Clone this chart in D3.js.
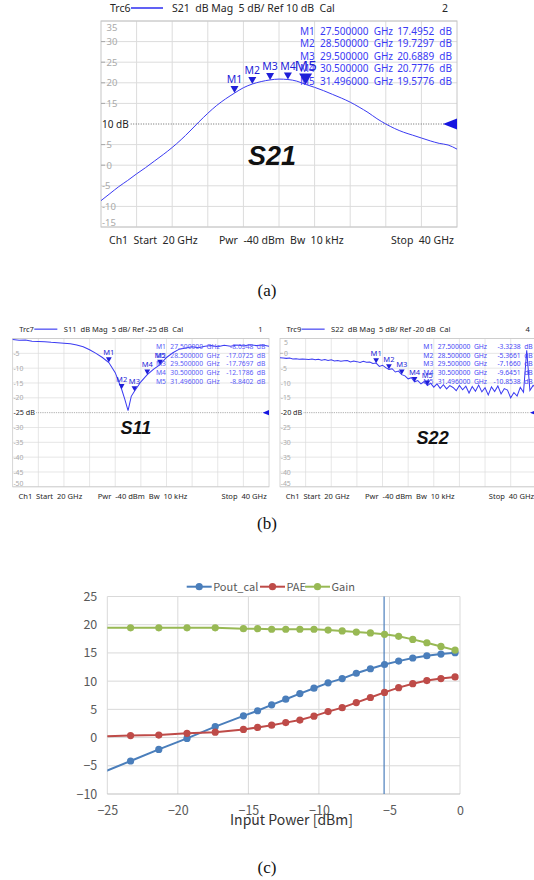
<!DOCTYPE html>
<html>
<head>
<meta charset="utf-8">
<script src="https://cdn.jsdelivr.net/npm/d3@7"></script>
<style>
  body { margin: 0; background: #fff; }
  svg { display: block; }
  .vna text { font-family: "Noto Sans", "Open Sans", sans-serif; white-space: pre; }
  .xl text { font-family: "Noto Sans CJK KR", "Noto Sans", sans-serif; }
  .cap { font-family: "Liberation Serif", "DejaVu Serif", serif; font-size: 17px; fill: #111; }
</style>
</head>
<body>
<svg id="fig" width="534" height="880"></svg>
<script>
// ---------------- data: network analyser traces (GHz, dB) ----------------
const s21Freq = [20, 20.5, 21, 21.5, 22, 22.5, 23, 23.5, 24, 24.5, 25, 25.5, 26, 26.5, 27, 27.5, 28, 28.5, 29, 29.5,
                 30, 30.5, 31, 31.5, 32, 32.5, 33, 33.5, 34, 34.5, 35, 35.5, 36, 36.5, 37, 37.5, 38, 38.5, 39, 39.5, 40];
const s21Db = [-8.6, -6.9, -5.2, -3.7, -2.1, -0.6, 1.0, 2.6, 4.3, 6.2, 8.3, 10.5, 12.6, 14.5, 16.1, 17.5, 18.8, 19.7, 20.3, 20.7,
               20.9, 20.8, 20.4, 19.6, 18.9, 18.1, 17.2, 16.3, 15.3, 14.1, 12.8, 11.3, 10.0, 8.9, 8.0, 7.3, 6.6, 5.9, 5.3, 4.9, 3.9];

const s11Freq = [20, 20.5, 21, 21.5, 22, 22.5, 23, 23.5, 24, 24.5, 25, 25.5, 26, 26.5, 27, 27.5, 28, 28.5, 28.75, 29, 29.25,
                 29.5, 30, 30.5, 31, 31.5, 32, 32.5, 33, 33.5, 34, 34.5, 35, 35.5, 36, 36.5, 37, 37.5, 38, 38.5, 39, 39.5, 40];
const s11Db = [-0.3, -0.6, -0.5, -0.9, -1.0, -1.1, -1.3, -1.4, -1.6, -1.8, -2.2, -2.8, -3.8, -5.0, -6.4, -8.1, -11.5, -17.1, -20.5, -24.3, -19.5,
               -17.8, -14.6, -12.2, -10.3, -8.8, -6.4, -4.8, -3.6, -3.2, -2.8, -3.1, -2.6, -2.4, -2.8, -2.3, -2.6, -2.2, -2.5, -2.1, -2.4, -2.2, -2.6];

const s22Freq = [20, 20.25, 20.5, 20.75, 21, 21.25, 21.5, 21.75,
                 22, 22.25, 22.5, 22.75, 23, 23.25, 23.5, 23.75,
                 24, 24.25, 24.5, 24.75, 25, 25.25, 25.5, 25.75,
                 26, 26.25, 26.5, 26.75, 27, 27.25, 27.5, 27.75,
                 28, 28.25, 28.5, 28.75, 29, 29.25, 29.5, 29.75,
                 30, 30.25, 30.5, 30.75, 31, 31.25, 31.5, 31.75,
                 32, 32.25, 32.5, 32.75, 33, 33.25, 33.5, 33.75,
                 34, 34.25, 34.5, 34.75, 35, 35.25, 35.5, 35.75,
                 36, 36.25, 36.5, 36.75, 37, 37.25, 37.5, 37.75,
                 38, 38.25, 38.5, 38.75, 39, 39.25, 39.5, 39.75,
                 40];
const s22Db = [-1.5, -1.6, -1.7, -1.6, -1.9, -1.8, -2.0, -1.9,
               -2.0, -2.1, -1.9, -2.2, -2.0, -2.3, -2.1, -2.4,
               -2.2, -2.6, -2.4, -2.7, -2.5, -2.4, -2.9, -2.6,
               -2.8, -3.1, -2.7, -3.0, -2.9, -3.4, -3.3, -4.4,
               -4.0, -4.8, -5.4, -5.2, -6.3, -6.0, -7.2, -7.6,
               -8.6, -8.2, -9.6, -9.2, -10.3, -9.5, -10.9, -10.1,
               -11.4, -10.3, -11.8, -10.6, -12.0, -10.9, -11.5, -12.6,
               -10.8, -12.3, -11.1, -13.4, -11.2, -12.8, -10.7, -13.0,
               -11.6, -14.0, -11.3, -12.9, -11.0, -13.7, -11.9, -12.4,
               -15.0, -13.2, -14.4, -11.5, -13.1, 1.0, -12.5, -10.8,
               -11.7];

// marker readouts
const markerNames = ["M1", "M2", "M3", "M4", "M5"];
const markerFreq = [27.5, 28.5, 29.5, 30.5, 31.496];
const s21Markers = [17.4952, 19.7297, 20.6889, 20.7776, 19.5776];
const s11Markers = [-8.0548, -17.0725, -17.7697, -12.1786, -8.8402];
const s22Markers = [-3.3238, -5.3661, -7.1660, -9.6451, -10.8538];

// ---------------- data: power sweep (c) ----------------
const pinDbm = [-25.35, -23.35, -21.35, -19.35, -17.35, -15.35, -14.35, -13.35, -12.35, -11.35, -10.35,
                -9.35, -8.35, -7.35, -6.35, -5.35, -4.35, -3.35, -2.35, -1.35, -0.35];
const poutCal = [-6.2, -4.15, -2.1, -0.15, 1.95, 3.85, 4.75, 5.8, 6.8, 7.8, 8.75,
                 9.7, 10.45, 11.4, 12.2, 12.95, 13.55, 14.1, 14.5, 14.8, 15.05];
const pae = [0.2, 0.35, 0.45, 0.75, 0.95, 1.45, 1.8, 2.2, 2.65, 3.1, 3.8,
             4.6, 5.3, 6.2, 7.1, 8.0, 8.85, 9.55, 10.1, 10.45, 10.75];
const gain = [19.45, 19.45, 19.45, 19.45, 19.45, 19.3, 19.3, 19.2, 19.2, 19.2, 19.2,
              19.05, 18.9, 18.7, 18.55, 18.3, 17.95, 17.4, 16.8, 16.15, 15.5];
const pinTicks = [-25, -20, -15, -10, -5, 0];
const yTicksC = [-10, -5, 0, 5, 10, 15, 20, 25];
const cursorPin = -5.38;

const svg = d3.select("#fig");

// one VNA screen, drawn in a 356x206 box and scaled by k
function drawVna(cfg) {
    const W = 356, H = 206;
    const g = svg.append("g").attr("class", "vna")
        .attr("transform", `translate(${cfg.left},${cfg.top}) scale(${cfg.k})`);
    const x = d3.scaleLinear().domain([20, 40]).range([0, W]);
    const y = d3.scaleLinear().domain([cfg.yTop, cfg.yTop - 50]).range([0, H]);

    // grid
    g.append("g").selectAll("line").data(x.ticks(10).slice(1, -1)).join("line")
        .attr("x1", d => x(d)).attr("x2", d => x(d)).attr("y1", 0).attr("y2", H)
        .attr("stroke", "#dcdcdc");
    g.append("g").selectAll("line").data(y.ticks(10).filter(d => d !== cfg.ref)).join("line")
        .attr("x1", 0).attr("x2", W).attr("y1", d => y(d)).attr("y2", d => y(d))
        .attr("stroke", "#dcdcdc");
    g.append("rect").attr("width", W).attr("height", H)
        .attr("fill", "none").attr("stroke", "#c6c6c6");

    // y labels
    const lab = g.append("g").attr("fill", "#a9a9a9").style("font-size", "9.5px");
    y.ticks(10).forEach(d => {
        if (d === cfg.ref || (cfg.hideTop && d === cfg.yTop)) return;
        let yy = y(d) + 3.5;
        if (d === cfg.yTop) yy += 6;
        if (d === cfg.yTop - 50) yy -= 5;
        if (d >= 0 && d !== cfg.yTop) {
            lab.append("line").attr("x1", 0).attr("x2", 4).attr("y1", y(d)).attr("y2", y(d))
                .attr("stroke", "#a9a9a9");
        }
        lab.append("text").attr("x", d < 0 ? 1 : 5.5).attr("y", yy).text(d);
    });

    // reference level
    const refLab = g.append("text").attr("x", 1).attr("y", y(cfg.ref) + 3.5)
        .attr("fill", "#222").style("font-size", "10px").text(`${cfg.ref} dB`);
    const refStart = refLab.node().getComputedTextLength() + 3;
    g.append("line").attr("x1", refStart).attr("x2", W - 10)
        .attr("y1", y(cfg.ref)).attr("y2", y(cfg.ref))
        .attr("stroke", "#666").attr("stroke-dasharray", "1,1.5");
    const a = cfg.arrow;
    g.append("path")
        .attr("d", `M${W - a},${y(cfg.ref)}L${W},${y(cfg.ref) - a * 0.4}L${W},${y(cfg.ref) + a * 0.4}Z`)
        .attr("fill", "#1515e0");

    // trace
    const line = d3.line().x(d => x(d[0])).y(d => y(d[1])).curve(cfg.curve);
    g.append("path").datum(d3.zip(cfg.freq, cfg.db)).attr("d", line)
        .attr("fill", "none").attr("stroke", "#3b3bf2").attr("stroke-width", cfg.lw);

    // marker table
    const tbl = g.append("g").attr("fill", cfg.tableColor).style("font-size", cfg.tableSize + "px");
    markerNames.forEach((m, i) => {
        const ty = 14 + i * 12.4;
        tbl.append("text").attr("x", 199).attr("y", ty).text(m);
        tbl.append("text").attr("x", 219).attr("y", ty).text(`${markerFreq[i].toFixed(6)}  GHz`);
        tbl.append("text").attr("x", 351).attr("y", ty).attr("text-anchor", "end")
            .text(`${cfg.markers[i].toFixed(4)}  dB`);
    });

    // marker triangles
    const mk = g.append("g").attr("fill", "#1f1fd8");
    markerNames.forEach((m, i) => {
        const px = x(markerFreq[i]), py = y(cfg.markers[i]);
        const big = cfg.bigActive && i === 4;
        const hw = big ? 6.5 : 4, hh = big ? 11 : 7;
        mk.append("path").attr("d", `M${px - hw},${py - hh}L${px + hw},${py - hh}L${px},${py}Z`);
        mk.append("text").attr("x", px).attr("y", py - hh - 3)
            .attr("text-anchor", "middle").style("font-size", big ? "15px" : "10.5px").text(m);
    });

    // header and footer
    const hd = g.append("g").attr("fill", "#262626").style("font-size", "10.5px");
    hd.append("text").attr("x", 9).attr("y", -9).text(cfg.trc);
    hd.append("line").attr("x1", 30).attr("x2", 62).attr("y1", -13).attr("y2", -13)
        .attr("stroke", "#2d2df0").attr("stroke-width", 1.5);
    hd.append("text").attr("x", 71).attr("y", -9)
        .text(`${cfg.name}  dB Mag  5 dB/ Ref ${cfg.ref} dB  Cal`);
    hd.append("text").attr("x", 347).attr("y", -9).attr("text-anchor", "end").text(cfg.ch);
    hd.append("text").attr("x", 8).attr("y", H + 17).text("Ch1  Start  20 GHz");
    hd.append("text").attr("x", 118).attr("y", H + 17).text("Pwr  -40 dBm  Bw  10 kHz");
    hd.append("text").attr("x", 290).attr("y", H + 17).text("Stop  40 GHz");

    // big label
    g.append("text").attr("x", cfg.labelX).attr("y", cfg.labelY)
        .attr("text-anchor", "middle")
        .style("font-family", "'Liberation Sans', Arial, sans-serif")
        .style("font-weight", "bold").style("font-style", "italic")
        .style("font-size", cfg.labelSize + "px").attr("fill", "#111")
        .text(cfg.name);
}

drawVna({ left: 101, top: 21, k: 1, yTop: 35, ref: 10, name: "S21", trc: "Trc6", ch: "2",
    freq: s21Freq, db: s21Db, markers: s21Markers, lw: 1, arrow: 14, bigActive: true,
    curve: d3.curveMonotoneX, tableSize: 10,
    tableColor: "#3a3af5", labelX: 171, labelY: 144, labelSize: 27 });
drawVna({ left: 12.7, top: 338.5, k: 0.72, yTop: 0, ref: -25, name: "S11", trc: "Trc7", ch: "1",
    freq: s11Freq, db: s11Db, markers: s11Markers, lw: 1.4, arrow: 9, bigActive: false, hideTop: true,
    curve: d3.curveLinear, tableSize: 9.4,
    tableColor: "#5a5af7", labelX: 171, labelY: 132, labelSize: 25 });
drawVna({ left: 280, top: 338.5, k: 0.72, yTop: 5, ref: -20, name: "S22", trc: "Trc9", ch: "4",
    freq: s22Freq, db: s22Db, markers: s22Markers, lw: 1.4, arrow: 9, bigActive: false,
    curve: d3.curveLinear, tableSize: 9.4,
    tableColor: "#4a4af6", labelX: 212, labelY: 146, labelSize: 25 });

// ---------------- (c) power sweep ----------------
const cx = d3.scaleLinear().domain([-25, 0]).range([107.3, 460]);
const cy = d3.scaleLinear().domain([-10, 25]).range([794, 596.5]);
const gc = svg.append("g").attr("class", "xl");

gc.append("g").selectAll("line").data(pinTicks).join("line")
    .attr("x1", d => cx(d)).attr("x2", d => cx(d)).attr("y1", cy(25)).attr("y2", cy(-10))
    .attr("stroke", "#d9d9d9");
gc.append("g").selectAll("line").data(yTicksC).join("line")
    .attr("x1", cx(-25)).attr("x2", cx(0)).attr("y1", d => cy(d)).attr("y2", d => cy(d))
    .attr("stroke", d => d === -10 ? "#bfbfbf" : "#d9d9d9");

const gxAxis = gc.append("g").attr("transform", `translate(0,${cy(-10)})`)
    .call(d3.axisBottom(cx).tickValues(pinTicks).tickSize(0).tickPadding(12));
const gyAxis = gc.append("g").attr("transform", `translate(${cx(-25)},0)`)
    .call(d3.axisLeft(cy).tickValues(yTicksC).tickSize(0).tickPadding(10));
[gxAxis, gyAxis].forEach(ax => {
    ax.select(".domain").remove();
    ax.selectAll("text").attr("fill", "#595959").style("font-size", "12.5px")
        .style("font-family", "'Noto Sans CJK KR', 'Noto Sans', sans-serif");
});

gc.append("text").attr("x", 291.5).attr("y", 825).attr("text-anchor", "middle")
    .attr("fill", "#333").style("font-size", "14px").text("Input Power [dBm]");

gc.append("clipPath").attr("id", "plotclip").append("rect")
    .attr("x", cx(-25)).attr("y", cy(25) - 5)
    .attr("width", cx(0) - cx(-25) + 5).attr("height", cy(-10) - cy(25) + 5);

gc.append("line").attr("x1", cx(cursorPin)).attr("x2", cx(cursorPin))
    .attr("y1", cy(25)).attr("y2", cy(-10))
    .attr("stroke", "#4a7ebb").attr("stroke-width", 1.2);

const series = [
    { name: "Pout_cal", values: poutCal, color: "#4a7ebb" },
    { name: "PAE", values: pae, color: "#be4b48" },
    { name: "Gain", values: gain, color: "#98b954" }
];
const plot = gc.append("g").attr("clip-path", "url(#plotclip)");
const cline = d3.line().x(d => cx(d[0])).y(d => cy(d[1]));
series.forEach(s => {
    const pts = d3.zip(pinDbm, s.values);
    plot.append("path").datum(pts).attr("d", cline)
        .attr("fill", "none").attr("stroke", s.color).attr("stroke-width", 2);
    plot.append("g").selectAll("circle").data(pts).join("circle")
        .attr("cx", d => cx(d[0])).attr("cy", d => cy(d[1])).attr("r", 3.6)
        .attr("fill", s.color);
});

// legend
const legX = [186.7, 260, 305];
const leg = gc.append("g");
series.forEach((s, i) => {
    const lx = legX[i], ly = 586.7;
    leg.append("line").attr("x1", lx).attr("x2", lx + 25).attr("y1", ly).attr("y2", ly)
        .attr("stroke", s.color).attr("stroke-width", 2);
    leg.append("circle").attr("cx", lx + 12.5).attr("cy", ly).attr("r", 3.6).attr("fill", s.color);
    leg.append("text").attr("x", lx + 26.5).attr("y", ly + 4.2)
        .attr("fill", "#595959").style("font-size", "11px").text(s.name);
});

// captions
svg.append("text").attr("class", "cap").attr("x", 267).attr("y", 296).attr("text-anchor", "middle").text("(a)");
svg.append("text").attr("class", "cap").attr("x", 267).attr("y", 529).attr("text-anchor", "middle").text("(b)");
svg.append("text").attr("class", "cap").attr("x", 267).attr("y", 873).attr("text-anchor", "middle").text("(c)");
</script>
</body>
</html>
